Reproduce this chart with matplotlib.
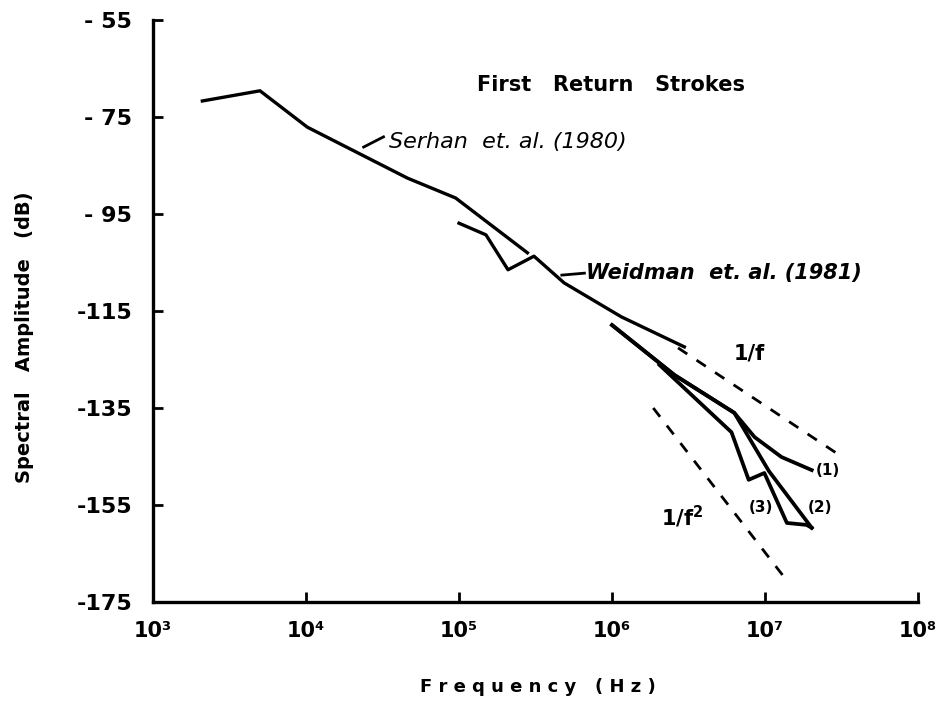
import matplotlib.pyplot as plt

# Serhan et al. (1980)
serhan_f = [2.1e3, 5.0e3, 1.02e4, 4.6e4, 9.5e4, 2.8e5]
serhan_db = [-71.7, -69.6, -77.1, -87.6, -91.7, -103.0]

# Weidman et al. (1981)
weid_f = [1.0e5, 1.5e5, 2.09e5, 3.09e5, 4.86e5, 1.15e6, 2.97e6]
weid_db = [-96.9, -99.3, -106.5, -103.7, -109.2, -116.2, -122.4]

# curves (1), (2), (3)
c1_f = [1.0e6, 2.56e6, 6.3e6, 8.55e6, 1.28e7, 2.02e7]
c1_db = [-117.9, -128.2, -136.0, -141.0, -145.1, -147.8]
c2_f = [1.0e6, 2.56e6, 6.3e6, 1.06e7, 2.02e7]
c2_db = [-117.9, -128.2, -136.0, -148.0, -159.7]
c3_f = [2.04e6, 6.04e6, 7.82e6, 9.9e6, 1.39e7, 1.87e7, 2.02e7]
c3_db = [-126.1, -140.0, -149.8, -148.4, -158.7, -159.1, -159.7]

# reference slopes
inv_f_f = [2.7e6, 3.2e7]
inv_f_db = [-122.6, -145.1]
inv_f2_f = [1.86e6, 1.43e7]
inv_f2_db = [-135.0, -171.1]

yticks = [-55, -75, -95, -115, -135, -155, -175]
ylabels = ['- 55', '- 75', '- 95', '-115', '-135', '-155', '-175']
xticks = [1e3, 1e4, 1e5, 1e6, 1e7, 1e8]
xlabels = ['10³', '10⁴', '10⁵', '10⁶', '10⁷', '10⁸']

fig = plt.figure(figsize=(9.4, 7.01), dpi=100)
ax = fig.add_axes([0.1628, 0.1412, 0.8138, 0.8303])

ax.plot(serhan_f, serhan_db, color='black', lw=2.4, solid_joinstyle='round')
ax.plot(weid_f, weid_db, color='black', lw=2.4, solid_joinstyle='round')
ax.plot(c1_f, c1_db, color='black', lw=2.7, solid_joinstyle='round')
ax.plot(c2_f, c2_db, color='black', lw=2.7, solid_joinstyle='round')
ax.plot(c3_f, c3_db, color='black', lw=2.7, solid_joinstyle='round')
ax.plot(inv_f_f, inv_f_db, color='black', lw=2, ls=(0, (4, 4)))
ax.plot(inv_f2_f, inv_f2_db, color='black', lw=2, ls=(0, (4, 4)))

ax.set_xscale('log')
ax.set_xlim(1e3, 1e8)
ax.set_ylim(-175, -55)

ax.set_xticks(xticks)
ax.set_xticklabels(xlabels, fontsize=15, fontweight='bold')
ax.minorticks_off()
ax.set_yticks(yticks)
ax.set_yticklabels(ylabels, fontsize=16, fontweight='bold')
ax.tick_params(direction='in', length=7, width=2, pad=14)
ax.tick_params(axis='y', pad=15)

for s in ['top', 'right']:
    ax.spines[s].set_visible(False)
for s in ['left', 'bottom']:
    ax.spines[s].set_linewidth(2.4)

fig.text(538 / 940, 1 - 687 / 701, 'F r e q u e n c y   ( H z )', fontsize=13,
         fontweight='bold', ha='center', va='center')
fig.text(25 / 940, 1 - 337 / 701, 'Spectral   Amplitude   (dB)', fontsize=14,
         fontweight='bold', ha='center', va='center', rotation=90)

ax.text(9.9e5, -68.5, 'First   Return   Strokes', fontsize=15, fontweight='bold',
        ha='center', va='center')

# annotation leaders
ax.plot([2.38e4, 3.21e4], [-81.2, -79.1], color='black', lw=2)
ax.text(3.5e4, -80.2, 'Serhan  et. al. (1980)', fontsize=16, style='italic',
        ha='left', va='center')
ax.plot([4.7e5, 6.6e5], [-107.6, -107.2], color='black', lw=2)
ax.text(6.8e5, -107.2, 'Weidman  et. al. (1981)', fontsize=15, style='italic',
        fontweight='bold', ha='left', va='center')

ax.text(6.2e6, -123.7, '1/f', fontsize=15, fontweight='bold', ha='left', va='center')
ax.text(2.1e6, -157.5, '1/f$^\\mathbf{2}$', fontsize=15, fontweight='bold',
        ha='left', va='center')
ax.text(2.15e7, -147.9, '(1)', fontsize=11, fontweight='bold', ha='left', va='center')
ax.text(1.9e7, -155.6, '(2)', fontsize=11, fontweight='bold', ha='left', va='center')
ax.text(7.8e6, -155.6, '(3)', fontsize=11, fontweight='bold', ha='left', va='center')

fig.savefig('out.png', dpi=100)
